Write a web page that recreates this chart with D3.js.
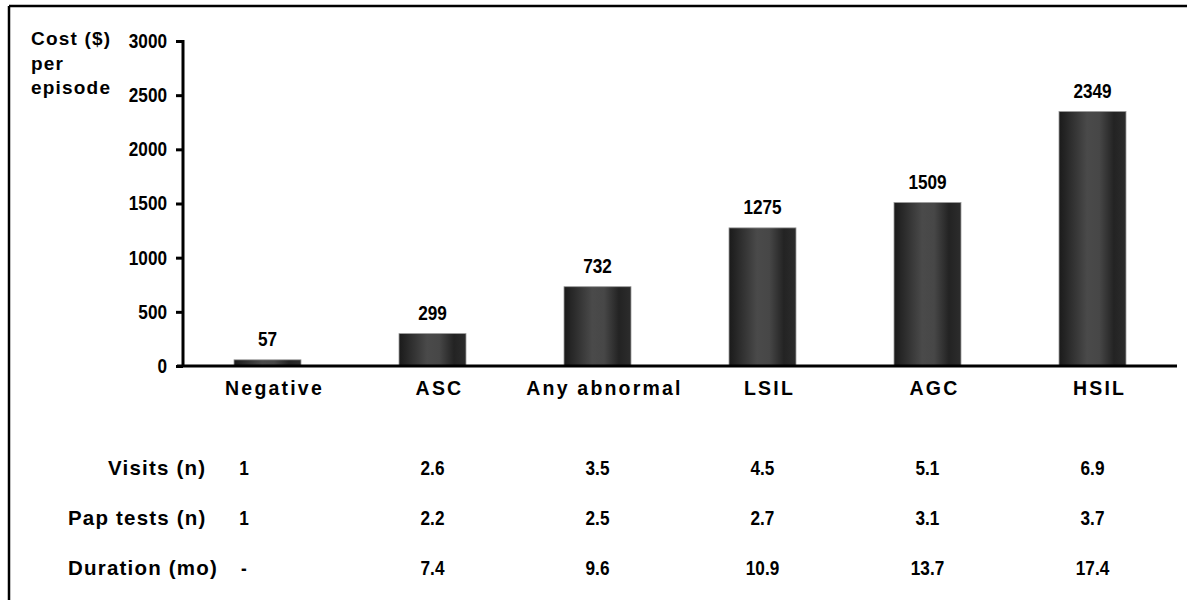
<!DOCTYPE html>
<html>
<head>
<meta charset="utf-8">
<script src="https://cdn.jsdelivr.net/npm/d3@7"></script>
<style>
  html, body { margin: 0; padding: 0; background: #fff; }
  svg { display: block; }
  .num { font-family: "Liberation Sans", Arial, Helvetica, sans-serif; font-weight: bold; font-size: 20px; fill: #000; }
  .lbl { font-family: "Liberation Sans", Arial, Helvetica, sans-serif; font-weight: bold; fill: #000; }
</style>
</head>
<body>
<svg id="chart" width="1192" height="600"></svg>
<script>
// ---- data ----
const categories = ["Negative", "ASC", "Any abnormal", "LSIL", "AGC", "HSIL"];
const costs = [57, 299, 732, 1275, 1509, 2349];
const yTicks = [0, 500, 1000, 1500, 2000, 2500, 3000];
const yTitle = ["Cost ($)", "per", "episode"];
const rowLabels = ["Visits (n)", "Pap tests  (n)", "Duration (mo)"];
const visits = [1, 2.6, 3.5, 4.5, 5.1, 6.9];
const papTests = [1, 2.2, 2.5, 2.7, 3.1, 3.7];
const durationMo = [null, 7.4, 9.6, 10.9, 13.7, 17.4];

// ---- layout ----
const svg = d3.select("#chart");
const axisX = 183, y0 = 366, yTop = 41;
const NARROW = 0.86; // horizontal squeeze to imitate a condensed bold face

const x = d3.scaleBand().domain(categories).range([185, 1175])
  .paddingInner(0.594).paddingOuter(0.297);
const y = d3.scaleLinear().domain([0, 3000]).range([y0, yTop]);
const cx = d => x(d) + x.bandwidth() / 2;

// frame (top and left lines)
svg.append("line").attr("x1", 9).attr("y1", 6).attr("x2", 1187).attr("y2", 6)
  .attr("stroke", "#000").attr("stroke-width", 2.5);
svg.append("line").attr("x1", 9).attr("y1", 6).attr("x2", 9).attr("y2", 600)
  .attr("stroke", "#000").attr("stroke-width", 2.5);

// gradient for cylindrical bars
const defs = svg.append("defs");
const grad = defs.append("linearGradient").attr("id", "barGrad")
  .attr("x1", "0%").attr("x2", "100%").attr("y1", "0%").attr("y2", "0%");
[[0, "#1a1a1a"], [0.15, "#2b2b2b"], [0.42, "#4a4a4a"], [0.6, "#474747"], [0.82, "#232323"], [1, "#2c2c2c"]]
  .forEach(([o, c]) => grad.append("stop").attr("offset", o).attr("stop-color", c));

// bars
svg.append("g").selectAll("rect").data(categories).join("rect")
  .attr("x", d => x(d))
  .attr("y", (d, i) => y(costs[i]))
  .attr("width", x.bandwidth())
  .attr("height", (d, i) => y0 - y(costs[i]))
  .attr("fill", "url(#barGrad)")
  .attr("stroke", "#9a9a9a").attr("stroke-width", 0.8);

// value labels
svg.append("g").selectAll("text").data(categories).join("text")
  .attr("class", "num")
  .attr("transform", `scale(${NARROW},1)`)
  .attr("x", d => cx(d) / NARROW)
  .attr("y", (d, i) => y(costs[i]) - 14)
  .attr("text-anchor", "middle")
  .text((d, i) => costs[i]);

// y axis
const yAxis = d3.axisLeft(y).tickValues(yTicks).tickSize(7).tickPadding(9).tickFormat(d3.format("d"));
const gy = svg.append("g").attr("transform", `translate(${axisX},0)`).call(yAxis);
gy.attr("font-size", null).attr("font-family", null);
gy.select(".domain").attr("stroke", "#000").attr("stroke-width", 3).attr("d", `M0,${yTop - 1}V${y0}`);
gy.selectAll(".tick line").attr("stroke", "#000").attr("stroke-width", 3);
gy.selectAll(".tick text").attr("class", "num").attr("fill", "#000")
  .attr("x", -16 / NARROW).attr("transform", `scale(${NARROW},1)`);

// x axis
const xAxis = d3.axisBottom(x).tickSize(0).tickPadding(23.5);
const gx = svg.append("g").attr("transform", `translate(0,${y0})`).call(xAxis);
gx.attr("font-size", null).attr("font-family", null);
gx.select(".domain").attr("stroke", "#000").attr("stroke-width", 3).attr("d", `M${axisX - 6},0H1177`);
gx.selectAll(".tick text").attr("class", "lbl").attr("dx", 7)
  .attr("font-size", 19.5).style("letter-spacing", "2.2px").attr("dy", "0.3em");

// y title
svg.append("g").selectAll("text").data(yTitle).join("text")
  .attr("class", "lbl").attr("font-size", 19).style("letter-spacing", "1.2px")
  .attr("x", 31).attr("y", (d, i) => 45 + i * 24.5)
  .text(d => d);

// table below
const rows = [visits, papTests, durationMo];
const rowY = [475, 525, 575];
const rowX = [108, 68, 68];
rowLabels.forEach((lab, r) => {
  svg.append("text").attr("class", "lbl").attr("font-size", 20.5).style("letter-spacing", "1.2px")
    .attr("x", rowX[r]).attr("y", rowY[r]).text(lab);
  svg.append("g").selectAll("text").data(rows[r]).join("text")
    .attr("class", "num")
    .attr("transform", `scale(${NARROW},1)`)
    .attr("x", (v, i) => (i === 0 ? 244 : cx(categories[i])) / NARROW)
    .attr("y", rowY[r])
    .attr("text-anchor", "middle")
    .text(v => v === null ? "-" : v);
});
</script>
</body>
</html>
